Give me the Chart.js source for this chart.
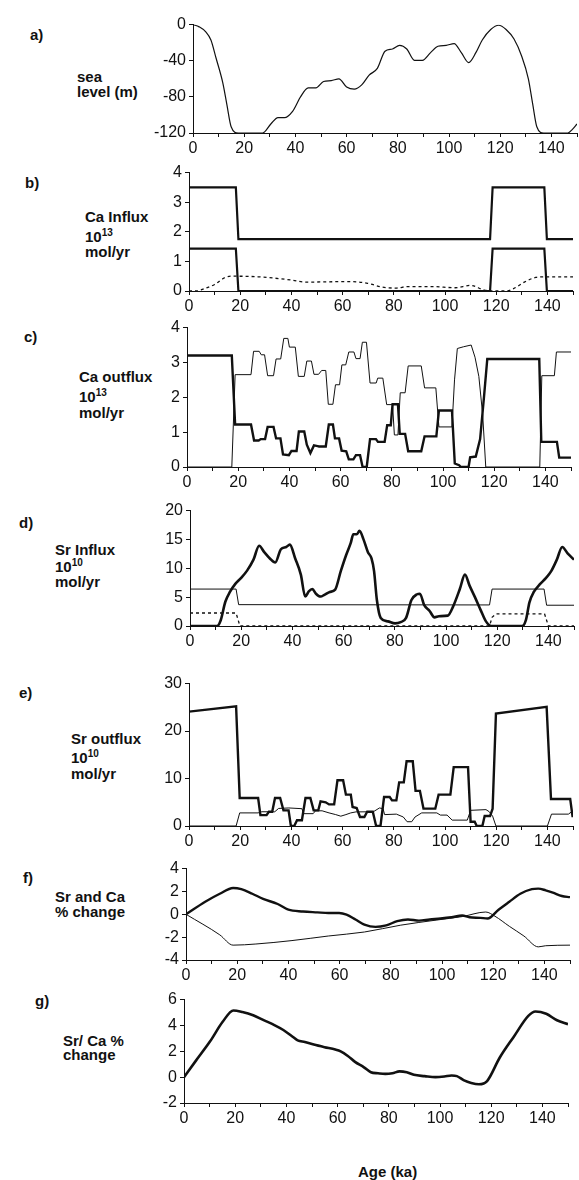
<!DOCTYPE html>
<html>
<head>
<meta charset="utf-8">
<script src="https://cdn.jsdelivr.net/npm/chart.js@4.4.0/dist/chart.umd.min.js"></script>
<style>
html, body { margin:0; padding:0; background:#fff; overflow:hidden; width:579px; height:1180px; }
canvas { position:absolute; }
.lab { position:absolute; font:bold 15px "Liberation Sans", Arial, sans-serif; line-height:15px; color:#111; white-space:nowrap; }
.lab sup { font-size:10px; line-height:0; vertical-align:6px; }
</style>
</head>
<body>

<div class="lab" style="left:30px;top:27px">a)</div>
<div class="lab" style="left:77px;top:69px">sea</div>
<div class="lab" style="left:77px;top:84px">level (m)</div>

<div class="lab" style="left:25px;top:175px">b)</div>
<div class="lab" style="left:85px;top:209px">Ca Influx</div>
<div class="lab" style="left:85px;top:229px">10<sup>13</sup></div>
<div class="lab" style="left:85px;top:244px">mol/yr</div>

<div class="lab" style="left:24px;top:329px">c)</div>
<div class="lab" style="left:79px;top:369px">Ca outflux</div>
<div class="lab" style="left:79px;top:389px">10<sup>13</sup></div>
<div class="lab" style="left:79px;top:405px">mol/yr</div>

<div class="lab" style="left:19px;top:515px">d)</div>
<div class="lab" style="left:55px;top:542px">Sr Influx</div>
<div class="lab" style="left:55px;top:559px">10<sup>10</sup></div>
<div class="lab" style="left:55px;top:574px">mol/yr</div>

<div class="lab" style="left:19px;top:685px">e)</div>
<div class="lab" style="left:71px;top:731px">Sr outflux</div>
<div class="lab" style="left:71px;top:750px">10<sup>10</sup></div>
<div class="lab" style="left:71px;top:766px">mol/yr</div>

<div class="lab" style="left:23px;top:870px">f)</div>
<div class="lab" style="left:55px;top:889px">Sr and Ca</div>
<div class="lab" style="left:55px;top:904px">% change</div>

<div class="lab" style="left:35px;top:993px">g)</div>
<div class="lab" style="left:63px;top:1033px">Sr/ Ca %</div>
<div class="lab" style="left:63px;top:1047px">change</div>

<div class="lab" style="left:358px;top:1164px">Age (ka)</div>

<canvas id="pa"></canvas>
<canvas id="pb"></canvas>
<canvas id="pc"></canvas>
<canvas id="pd"></canvas>
<canvas id="pe"></canvas>
<canvas id="pf"></canvas>
<canvas id="pg"></canvas>

<script>
// a) sea level
var seaAge = [0, 2.4, 5, 7, 9, 11.6, 13.2, 14.9, 17.7, 27.2, 30.4, 33.2, 35.7, 38.9, 42, 45, 48, 51, 54, 57, 60, 63, 66, 68.8, 72, 75, 77.9, 80.7, 83.5, 86.5, 89.6, 92.8, 95.7, 98.9, 102, 104.8, 107.7, 110.6, 113, 116.3, 119.4, 122.3, 125.4, 128.4, 131, 132.7, 134.3, 137, 146.4, 148.2, 150];
var seaLevel = [0, -2.5, -8, -17, -37, -64, -88, -113, -120, -120, -110, -103, -103, -96, -80, -70, -70, -63, -62, -60, -69, -71.5, -66.5, -56, -48.5, -29.5, -27, -23, -27, -39.5, -39.5, -31, -24, -23, -21, -31, -42, -30.5, -17, -5.4, -0.7, -5.4, -16, -35, -60, -88, -113, -120, -120, -116, -110];

// b) Ca influx
var caInAge = [0, 18.3, 19.3, 117.6, 118.6, 138.8, 139.8, 150];
var caInHigh = [3.5, 3.5, 1.75, 1.75, 3.5, 3.5, 1.75, 1.75];
var caInLow = [1.43, 1.43, 0, 0, 1.43, 1.43, 0, 0];
var caInDashAge = [0, 3, 6, 10, 14, 16.5, 27, 40, 45.5, 62.6, 69.8, 75.5, 81, 85.4, 95, 104, 110, 115, 118, 124, 126.8, 131, 135.4, 138, 150];
var caInDash = [0, 0, 0.08, 0.22, 0.45, 0.5, 0.48, 0.37, 0.3, 0.32, 0.26, 0.13, 0.1, 0.15, 0.15, 0.11, 0.19, 0.04, 0, 0, 0.08, 0.3, 0.46, 0.48, 0.48];

// c) Ca outflux
var caOutThickAge = [0, 17.5, 18.8, 25, 26.2, 28, 28.8, 30.5, 31.5, 33.8, 34.8, 36.5, 37.5, 39.8, 40.8, 42.8, 43.7, 45.8, 46.8, 48.2, 49.6, 51, 51.6, 54.2, 55.4, 57, 57.8, 59.4, 60.4, 62.2, 63.2, 65, 66, 67.6, 68.6, 70.2, 71.5, 73.8, 74.6, 77.2, 78.2, 79.6, 80.3, 82.4, 83.1, 85.2, 86.4, 91.5, 92.8, 97.4, 98.4, 103.5, 104.6, 106.3, 107, 110, 110.6, 112.8, 114.5, 116, 117.3, 137.6, 138.4, 144.5, 145.4, 150];
var caOutThick = [3.2, 3.2, 1.22, 1.22, 0.76, 0.76, 0.8, 0.8, 1.15, 1.15, 0.82, 0.82, 0.36, 0.34, 0.46, 0.46, 1.02, 1.02, 0.64, 0.4, 0.62, 0.6, 0.59, 0.59, 1.22, 1.22, 0.82, 0.82, 0.47, 0.45, 0.22, 0.22, 0.34, 0.34, 0, 0, 0.8, 0.8, 0.72, 0.72, 1.2, 1.2, 1.8, 1.8, 0.95, 0.95, 0.45, 0.45, 0.88, 0.88, 1.62, 1.62, 0.1, 0.05, 0, 0, 0.28, 0.3, 0.8, 2.0, 3.1, 3.1, 0.72, 0.72, 0.27, 0.27];
var caOutThinAge = [0, 17.5, 18.8, 25, 26, 28.2, 29, 30.3, 31.5, 33.8, 34.8, 36.6, 37.8, 39.4, 40, 42.3, 43.5, 45.8, 46.8, 48.6, 49.6, 51.4, 52.6, 54.2, 55.2, 57, 58, 59.6, 60.5, 62, 63.2, 65.2, 66, 67.6, 68.5, 70.1, 71.5, 73.9, 74.5, 76.5, 78, 80.3, 81, 82.4, 83.3, 85.2, 86.4, 91.5, 92.8, 97.2, 98.4, 103.5, 104.5, 105.6, 108, 111, 112.5, 114, 115.5, 116.7, 137.8, 138.6, 143.5, 144.3, 150];
var caOutThin = [0, 0, 2.65, 2.65, 3.32, 3.32, 3.22, 3.22, 2.62, 2.62, 3.1, 3.1, 3.69, 3.69, 3.44, 3.44, 2.6, 2.6, 3.04, 3.04, 2.66, 2.66, 2.77, 2.77, 1.8, 1.8, 2.36, 2.36, 2.93, 2.93, 3.3, 3.3, 3.11, 3.11, 3.58, 3.58, 2.41, 2.41, 2.55, 2.55, 1.79, 1.79, 0.92, 0.92, 2.13, 2.13, 2.9, 2.9, 2.27, 2.27, 1.15, 1.15, 2.5, 3.4, 3.45, 3.5, 3.15, 2.6, 1.5, 0, 0, 2.62, 2.62, 3.3, 3.3];

// d) Sr influx
var srInAge = [0, 10.6, 12, 13.8, 15.6, 17.7, 19.9, 22.3, 24.8, 27, 29, 31.2, 33.3, 35.5, 37.6, 39, 41.1, 43.3, 45, 46.4, 47.8, 49.2, 51, 52.5, 54.6, 56.7, 58.9, 61, 62.8, 63.8, 65.2, 66.2, 67.7, 69.5, 70.9, 71.9, 73, 74.5, 77.3, 80.1, 82.3, 84.4, 86.5, 88.7, 89.8, 91.5, 93.6, 95.5, 97.2, 100.7, 102.8, 105.4, 107.4, 109.2, 111.3, 113.5, 115.6, 117.7, 129.8, 131.2, 132.6, 134.3, 136.6, 139, 141.1, 143.3, 145.4, 147.5, 150];
var srInBold = [0, 0, 1.0, 4.2, 5.9, 7.3, 8.3, 9.6, 11.5, 13.9, 12.8, 11.7, 11, 13.3, 13.7, 14.1, 11.7, 8.9, 5.1, 6, 6.4, 5.6, 5.1, 5.4, 5.9, 6.3, 9.5, 12.3, 14.4, 15.9, 15.9, 16.5, 15.1, 12.8, 11.7, 9.5, 4.5, 1.4, 0.8, 0.45, 0.67, 1.4, 4.5, 5.5, 5.6, 3.6, 2.6, 1.5, 1.7, 1.8, 3.4, 6.4, 8.9, 7, 5, 2.8, 0.8, 0, 0, 1.0, 4.1, 5.9, 7.2, 8.3, 9.5, 11.5, 13.7, 12.6, 11.5];
var srInStepAge = [0, 18, 19, 117, 118, 138.3, 139.3, 150];
var srInThin = [6.4, 6.4, 3.7, 3.65, 6.4, 6.4, 3.6, 3.6];
var srInDashAge = [0, 18, 19.5, 117, 118, 119.5, 138.5, 140, 150];
var srInDash = [2.25, 2.25, 0, 0, 1.5, 2.1, 2.1, 0, 0];

// e) Sr outflux
var srOutThickAge = [0, 18.4, 19.8, 27, 27.9, 30.3, 31.2, 32.5, 33.6, 35.6, 36.9, 38.9, 39.8, 41.1, 42.2, 44.1, 45.5, 47.4, 48.7, 50.5, 51.4, 53.4, 54.7, 56.7, 58, 60.2, 61.3, 63.2, 63.9, 65.5, 66.8, 68.5, 69.6, 71.8, 73.1, 74.8, 76.2, 78.4, 79.3, 81, 82.1, 83.9, 85, 87.4, 88.5, 90.2, 91.6, 96.2, 97.5, 102.1, 103.4, 109, 110, 111.6, 112.4, 114.6, 115.5, 117.6, 118.6, 119.9, 139.7, 141.4, 148.9, 149.8, 152];
var srOutThick = [24.1, 25.2, 5.9, 5.9, 2.3, 2.3, 3.0, 3.0, 5.9, 5.9, 3.3, 3.3, 0, 0, 1.2, 1.2, 5.9, 5.9, 3.3, 3.3, 5.2, 5.0, 4.55, 4.55, 9.65, 9.65, 6.6, 6.6, 4.0, 3.8, 1.9, 1.9, 3.0, 3.0, 0, 0, 6.1, 6.1, 5.4, 5.4, 9.2, 9.2, 13.65, 13.65, 7.4, 7.4, 3.65, 3.65, 6.6, 6.6, 12.4, 12.4, 0.9, 0.9, 0, 0, 2.1, 2.1, 3.65, 23.7, 25.1, 5.7, 5.7, 2.1, 2.1];
var srOutThinAge = [0, 18.4, 19.8, 27, 28.3, 33.5, 35, 39, 44.1, 44.8, 48.5, 49.4, 52, 54.7, 57.3, 59.3, 61.3, 63.2, 65.2, 72, 74.4, 75.8, 76.4, 81, 83.7, 85.2, 87, 88.3, 90.9, 96.8, 98.2, 100.8, 102.8, 108.7, 110, 116, 117.3, 118.6, 119.9, 140, 141.6, 148.2, 149.5, 152];
var srOutThin = [0, 0, 2.76, 2.76, 3.0, 3.0, 3.7, 3.8, 3.65, 2.6, 2.6, 3.2, 3.2, 2.76, 2.4, 2.07, 2.4, 2.76, 2.97, 3.0, 3.8, 3.65, 2.4, 2.5, 1.9, 0.9, 0.9, 1.9, 2.76, 2.76, 2.3, 2.3, 1.24, 1.24, 3.3, 3.45, 3.0, 2.07, 0, 0, 2.5, 2.5, 3.0, 3.0];

// f) Sr and Ca % change
var srPctAge = [0, 7.5, 13.2, 18.4, 21.6, 25.9, 30.1, 35.8, 40, 45.7, 51.3, 55.6, 59.8, 62.7, 66.2, 69.7, 74, 78.2, 82.5, 86.7, 91, 95.2, 99.4, 103.7, 107.9, 110.7, 115, 117.8, 122.1, 126.3, 130.6, 135.1, 137.6, 140.5, 143.3, 146.8, 150];
var srPct = [0, 1.1, 1.8, 2.3, 2.2, 1.8, 1.35, 0.9, 0.4, 0.25, 0.17, 0.11, 0.11, -0.03, -0.45, -0.9, -1.1, -0.97, -0.6, -0.45, -0.55, -0.45, -0.37, -0.26, -0.11, -0.26, -0.31, -0.37, 0.4, 1.1, 1.8, 2.2, 2.25, 2.1, 1.9, 1.6, 1.5];
var caPctAge = [0, 13.2, 18.4, 27.3, 41.4, 55.6, 69.7, 83.9, 98, 107.9, 117.1, 120.7, 126.3, 132, 137.6, 140.5, 150];
var caPct = [0, -1.8, -2.7, -2.6, -2.3, -1.9, -1.55, -0.95, -0.5, -0.2, 0.2, -0.17, -1.05, -1.9, -2.85, -2.75, -2.7];

// g) Sr/Ca % change
var ratioAge = [0, 4.6, 10.2, 15.1, 19.3, 22.8, 27, 31.1, 35.3, 38.8, 42.3, 44.4, 47.2, 50.7, 54.9, 59.1, 61.2, 64, 66.8, 70.3, 73, 75.8, 78.6, 81.4, 84.2, 87, 89.8, 94, 98.2, 101.7, 104.5, 106.6, 109.4, 112.2, 115.2, 118.4, 123.3, 128.9, 134.5, 137.3, 141.5, 145.7, 150];
var ratioPct = [0, 1.26, 2.77, 4.28, 5.16, 5.04, 4.79, 4.41, 4.03, 3.65, 3.15, 2.85, 2.72, 2.52, 2.32, 2.14, 2.0, 1.64, 1.18, 0.76, 0.38, 0.3, 0.25, 0.3, 0.45, 0.38, 0.18, 0.08, 0, 0.05, 0.13, 0.08, -0.25, -0.45, -0.55, -0.3, 1.5, 3.15, 4.74, 5.08, 4.9, 4.4, 4.1];

var YW = 60, PT = 10, PR = 8, XH = 28, PW = 384;
var INK = '#111';

Chart.defaults.font.family = '"Liberation Sans", Arial, sans-serif';
Chart.defaults.font.size = 16;
Chart.defaults.color = INK;

function line(xs, ys, w, dash, smooth) {
	var pts = [];
	for (var i = 0; i < xs.length; i++) {
		pts.push({x: xs[i], y: ys[i]});
	}
	return {
		data: pts,
		borderColor: INK,
		borderWidth: w,
		borderDash: dash || [],
		pointRadius: 0,
		fill: false,
		tension: smooth ? 0.4 : 0,
		cubicInterpolationMode: smooth ? 'monotone' : 'default'
	};
}

function panel(id, L, T, B, yMin, yMax, yStep, sets) {
	var cv = document.getElementById(id);
	cv.width = YW + PW + PR;
	cv.height = PT + (B - T) + XH;
	cv.style.left = (L - YW) + 'px';
	cv.style.top = (T - PT) + 'px';
	var axis = {
		grid: { display: true, drawOnChartArea: false, drawTicks: true, tickLength: 4, color: INK, lineWidth: 1 },
		border: { display: true, color: INK, width: 1 }
	};
	return new Chart(cv, {
		type: 'line',
		data: { datasets: sets },
		options: {
			responsive: false,
			animation: false,
			devicePixelRatio: 1,
			layout: { padding: { top: PT, right: PR, left: 0, bottom: 0 } },
			plugins: { legend: { display: false }, tooltip: { enabled: false } },
			scales: {
				x: Object.assign({
					type: 'linear', min: 0, max: 150,
					afterFit: function(s) { s.height = XH; },
					ticks: {
						stepSize: 10, autoSkip: false, maxRotation: 0, includeBounds: false, padding: 2,
						callback: function(v) { return (v % 20 === 0 && v <= 140) ? String(v) : ''; }
					}
				}, axis),
				y: Object.assign({
					type: 'linear', min: yMin, max: yMax,
					afterFit: function(s) { s.width = YW; },
					ticks: {
						stepSize: yStep, autoSkip: false, includeBounds: false, padding: 3,
						callback: function(v) { return String(v); }
					}
				}, axis)
			}
		}
	});
}

panel('pa', 193, 21.5, 132.5, -120, 0, 40, [
	line(seaAge, seaLevel, 1.2, null, true)
]);
panel('pb', 189, 169.5, 290.5, 0, 4, 1, [
	line(caInAge, caInHigh, 2.2),
	line(caInAge, caInLow, 2.2),
	line(caInDashAge, caInDash, 1.3, [3, 3], true)
]);
panel('pc', 186.5, 325, 467.7, 0, 4, 1, [
	line(caOutThinAge, caOutThin, 1),
	line(caOutThickAge, caOutThick, 2.4)
]);
panel('pd', 190, 508, 626, 0, 20, 5, [
	line(srInStepAge, srInThin, 1),
	line(srInDashAge, srInDash, 1.3, [3, 3]),
	line(srInAge, srInBold, 2.6, null, true)
]);
panel('pe', 189.3, 681, 826, 0, 30, 10, [
	line(srOutThinAge, srOutThin, 1),
	line(srOutThickAge, srOutThick, 2.4)
]);
panel('pf', 186, 866, 960, -4, 4, 2, [
	line(caPctAge, caPct, 1, null, true),
	line(srPctAge, srPct, 2.4, null, true)
]);
panel('pg', 183.5, 997, 1103, -2, 6, 2, [
	line(ratioAge, ratioPct, 2.6, null, true)
]);
</script>
</body>
</html>
